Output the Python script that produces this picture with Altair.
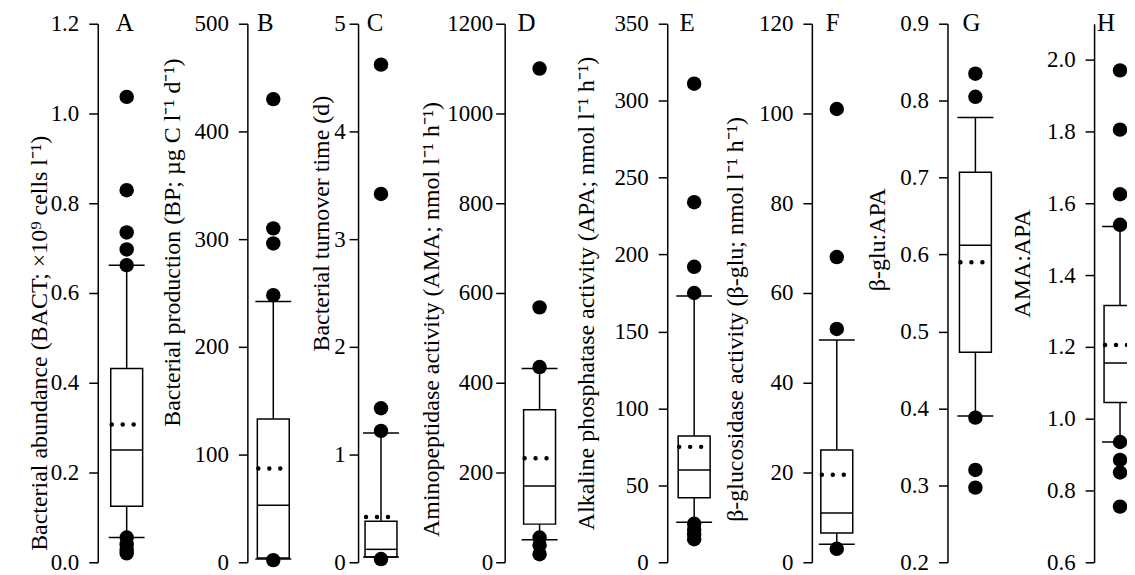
import altair as alt
import pandas as pd

letters = ["A", "B", "C", "D", "E", "F", "G", "H"]
titles = [
    "Bacterial abundance (BACT; ×10⁹ cells l⁻¹)",
    "Bacterial production (BP; µg C l⁻¹ d⁻¹)",
    "Bacterial turnover time (d)",
    "Aminopeptidase activity (AMA; nmol l⁻¹ h⁻¹)",
    "Alkaline phosphatase activity (APA; nmol l⁻¹ h⁻¹)",
    "β-glucosidase activity (β-glu; nmol l⁻¹ h⁻¹)",
    "β-glu:APA",
    "AMA:APA",
]
domains = [[0, 1.2], [0, 500], [0, 5], [0, 1200], [0, 350], [0, 120], [0.2, 0.9], [0.6, 2.1]]
tick_vals = [
    [0.0, 0.2, 0.4, 0.6, 0.8, 1.0, 1.2],
    [0, 100, 200, 300, 400, 500],
    [0, 1, 2, 3, 4, 5],
    [0, 200, 400, 600, 800, 1000, 1200],
    [0, 50, 100, 150, 200, 250, 300, 350],
    [0, 20, 40, 60, 80, 100, 120],
    [0.2, 0.3, 0.4, 0.5, 0.6, 0.7, 0.8, 0.9],
    [0.6, 0.8, 1.0, 1.2, 1.4, 1.6, 1.8, 2.0],
]
tick_fmt = [".1f", "d", "d", "d", "d", "d", ".1f", ".1f"]

whisk_lo = [0.055, 3, 0.05, 50, 26, 4, 0.39, 0.935]
q1 = [0.125, 4, 0.05, 85, 42, 6.5, 0.473, 1.045]
median = [0.25, 53, 0.12, 170, 60, 11, 0.612, 1.155]
q3 = [0.432, 133, 0.38, 340, 82, 25, 0.707, 1.315]
mean = [0.307, 87, 0.42, 232, 75, 19.5, 0.59, 1.205]
whisk_hi = [0.662, 242, 1.2, 432, 173, 49.5, 0.778, 1.535]
outliers = [
    [1.037, 0.829, 0.735, 0.697, 0.662, 0.055, 0.04, 0.028, 0.02],
    [430, 310, 296, 248, 2],
    [4.62, 3.42, 1.43, 1.22, 0.03],
    [1100, 568, 435, 55, 38, 18],
    [311, 234, 192, 175, 25, 21, 18, 15],
    [101, 68, 52, 3],
    [0.835, 0.805, 0.388, 0.32, 0.297],
    [1.97, 1.805, 1.625, 1.54, 0.935, 0.885, 0.85, 0.755],
]

# layout (styles / positions, pixels)
panel_w = [150, 111, 147, 163, 145, 136, 147, 33]
box_center = [29, 26, 23, 35, 27, 25, 28, 26]
letter_pos = [27, 18, 17, 22, 20, 21, 24, 12]
title_x = [-58, -75, -37, -73, -81, -77, -70, -72]
title_y = [320, 219, 200, 296, 270, 296, 216, 240]
label_pad = [10, 10, 4, 3, 10, 10, 10, 10]

FONT = "Liberation Serif"
H = 540
BOX_W = 32
CAP_W = 36

panels = []
for i, L in enumerate(letters):
    w = panel_w[i]
    off = box_center[i] - w / 2
    dfb = pd.DataFrame({
        "cat": [L], "lo": [whisk_lo[i]], "q1": [q1[i]], "med": [median[i]],
        "q3": [q3[i]], "mean": [mean[i]], "hi": [whisk_hi[i]], "top": [domains[i][1]],
    })
    dfo = pd.DataFrame({"cat": [L] * len(outliers[i]), "v": outliers[i]})

    def yenc(field):
        return alt.Y(
            f"{field}:Q",
            scale=alt.Scale(domain=domains[i], nice=False, zero=False),
            axis=alt.Axis(values=tick_vals[i], format=tick_fmt[i], titleX=title_x[i],
                          titleY=title_y[i], titleAngle=-90, titleBaseline="middle",
                          titleAlign="center", labelPadding=label_pad[i]),
            title=titles[i],
        )

    xenc = alt.X("cat:N", axis=None, scale=alt.Scale(paddingInner=0, paddingOuter=0))
    clip = (i == len(letters) - 1)
    base_b = alt.Chart(dfb)
    whisker = base_b.mark_rule(strokeWidth=1.5, color="black", xOffset=off, clip=clip).encode(
        x=xenc, y=yenc("lo"), y2="hi")
    box = base_b.mark_bar(size=BOX_W, fill="white", stroke="black", strokeWidth=1.5,
                          xOffset=off, clip=clip).encode(x=xenc, y=yenc("q1"), y2="q3")
    med = base_b.mark_tick(size=BOX_W, thickness=1.5, color="black", xOffset=off,
                           opacity=1, clip=clip).encode(x=xenc, y=yenc("med"))
    cap_lo = base_b.mark_tick(size=CAP_W, thickness=1.5, color="black", xOffset=off,
                              opacity=1, clip=clip).encode(x=xenc, y=yenc("lo"))
    cap_hi = base_b.mark_tick(size=CAP_W, thickness=1.5, color="black", xOffset=off,
                              opacity=1, clip=clip).encode(x=xenc, y=yenc("hi"))
    mn = base_b.mark_rule(strokeWidth=4.5, color="black", strokeDash=[0, 11], strokeCap="round",
                          xOffset=off - BOX_W / 2 + 1, x2Offset=off + BOX_W / 2, clip=clip).encode(
        x=xenc, x2="cat:N", y=yenc("mean"))
    pts = alt.Chart(dfo).mark_circle(size=210, color="black", opacity=1, xOffset=off,
                                     clip=clip).encode(x=xenc, y=yenc("v"))
    let = base_b.mark_text(font=FONT, fontSize=25, color="black", baseline="middle",
                           align="center", dy=-1, xOffset=letter_pos[i] - w / 2).encode(
        x=xenc, y=yenc("top"), text="cat:N")
    layer = alt.layer(whisker, box, med, cap_lo, cap_hi, mn, pts, let).properties(
        width=w, height=H)
    panels.append(layer)

chart = alt.hconcat(*panels, spacing=0, bounds="flush").properties(
    padding={"left": 20, "top": 2, "right": 0, "bottom": 0}
).configure_view(stroke=None).configure_axis(
    domainColor="black", domainWidth=1.5, tickColor="black", tickWidth=1.5, tickSize=9,
    labelFont=FONT, labelFontSize=23, labelColor="black",
    titleFont=FONT, titleFontSize=24, titleFontWeight="normal", titleColor="black",
    grid=False,
)

chart.save("out.html", embed_options={"renderer": "svg", "actions": False})
